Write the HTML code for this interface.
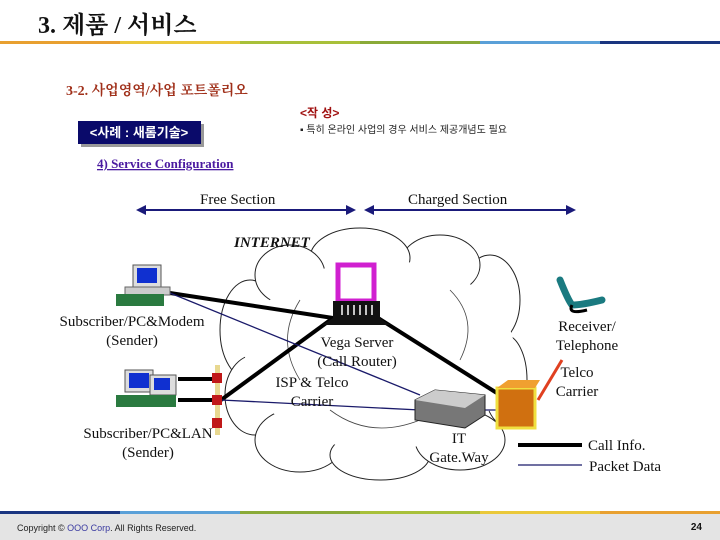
<!DOCTYPE html>
<html><head><meta charset="utf-8"><style>
body{margin:0;width:720px;height:540px;overflow:hidden;background:#fff}
svg{display:block}
.k{font-family:"Liberation Sans","Noto Sans CJK KR",sans-serif}
.s{font-family:"Liberation Serif","Noto Serif CJK SC",serif}
</style></head><body>
<svg width="720" height="540" viewBox="0 0 720 540">
<text x="38" y="33" class="s" font-size="24" font-weight="bold" fill="#111">3. 제품 / 서비스</text>
<rect x="0" y="41" width="120" height="3" fill="#e8a030"/>
<rect x="120" y="41" width="120" height="3" fill="#eac83a"/>
<rect x="240" y="41" width="120" height="3" fill="#a8c03a"/>
<rect x="360" y="41" width="120" height="3" fill="#8aaa38"/>
<rect x="480" y="41" width="120" height="3" fill="#5aa0d8"/>
<rect x="600" y="41" width="120" height="3" fill="#1a3580"/>
<text x="66" y="95" class="s" font-size="14" font-weight="bold" fill="#a0301a">3-2. 사업영역/사업 포트폴리오</text>
<text x="300" y="117" class="k" font-size="12" font-weight="bold" fill="#a01010">&lt;작 성&gt;</text>
<text x="300" y="133" class="k" font-size="10" fill="#222">▪ 특히 온라인 사업의 경우 서비스 제공개념도 필요</text>
<rect x="81" y="124" width="123" height="23" fill="#999"/>
<rect x="78" y="121" width="123" height="23" fill="#0a0a6a"/>
<text x="139" y="137" class="k" font-size="13" font-weight="bold" fill="#fff" text-anchor="middle">&lt;사례 : 새롬기술&gt;</text>
<text x="97" y="168" class="s" font-size="13" font-weight="bold" fill="#4a1aa0" text-decoration="underline">4) Service Configuration</text>
<text x="200" y="204" class="s" font-size="15" fill="#111">Free Section</text>
<text x="408" y="204" class="s" font-size="15" fill="#111">Charged Section</text>
<g stroke="#1a1a7a" stroke-width="2" fill="#1a1a7a">
<line x1="142" y1="210" x2="350" y2="210"/><polygon points="136,210 146,205 146,215" stroke="none"/><polygon points="356,210 346,205 346,215" stroke="none"/>
<line x1="370" y1="210" x2="570" y2="210"/><polygon points="364,210 374,205 374,215" stroke="none"/><polygon points="576,210 566,205 566,215" stroke="none"/>
</g>
<!-- cloud -->
<g fill="#fff" stroke="#222" stroke-width="1">
<ellipse cx="250" cy="330" rx="30" ry="50"/><ellipse cx="255" cy="395" rx="30" ry="40"/><ellipse cx="300" cy="440" rx="45" ry="32"/>
<ellipse cx="380" cy="455" rx="50" ry="25"/><ellipse cx="460" cy="440" rx="45" ry="30"/><ellipse cx="505" cy="380" rx="22" ry="45"/>
<ellipse cx="490" cy="300" rx="30" ry="45"/><ellipse cx="440" cy="265" rx="40" ry="30"/><ellipse cx="360" cy="258" rx="50" ry="30"/><ellipse cx="290" cy="275" rx="35" ry="30"/>
<ellipse cx="380" cy="355" rx="135" ry="95" stroke="none"/>
</g>
<g fill="none" stroke="#444" stroke-width="0.8">
<path d="M300 300 q-25 40 0 80"/><path d="M450 290 q30 30 10 70"/><path d="M330 410 q40 30 90 10"/>
</g>
<text x="234" y="247" class="s" font-size="15" font-style="italic" font-weight="bold" fill="#111">INTERNET</text>
<!-- lines -->
<g stroke="#000" stroke-width="4" fill="none">
<line x1="170" y1="293" x2="333" y2="318"/><line x1="221" y1="400" x2="333" y2="318"/><line x1="378" y1="318" x2="500" y2="395"/>
<line x1="178" y1="379" x2="218" y2="379"/><line x1="178" y1="400" x2="218" y2="400"/>
</g>
<g stroke="#1a1a6a" stroke-width="1.3">
<line x1="170" y1="293" x2="420" y2="395"/><line x1="221" y1="400" x2="420" y2="410"/><line x1="460" y1="410" x2="500" y2="410"/>
</g>
<line x1="538" y1="400" x2="562" y2="360" stroke="#e04020" stroke-width="3"/>
<!-- hub -->
<rect x="215" y="365" width="5" height="70" fill="#e8d890"/>
<rect x="212" y="373" width="10" height="10" fill="#c01818"/><rect x="212" y="395" width="10" height="10" fill="#c01818"/><rect x="212" y="418" width="10" height="10" fill="#c01818"/>
<!-- PCs -->
<g><rect x="133" y="265" width="28" height="22" fill="#ddd" stroke="#555"/><rect x="137" y="268" width="20" height="15" fill="#1030d0"/><rect x="125" y="287" width="45" height="8" fill="#ccc" stroke="#666"/><rect x="116" y="294" width="48" height="12" fill="#2a7a40"/></g>
<g><rect x="125" y="370" width="28" height="22" fill="#ddd" stroke="#555"/><rect x="129" y="373" width="20" height="15" fill="#1030d0"/><rect x="150" y="375" width="26" height="20" fill="#ddd" stroke="#555"/><rect x="154" y="378" width="16" height="12" fill="#1030d0"/><rect x="116" y="395" width="60" height="12" fill="#2a7a40"/></g>
<!-- server -->
<rect x="338" y="265" width="36" height="36" fill="#fff" stroke="#d020d0" stroke-width="5"/>
<polygon points="333,301 380,301 380,318 390,325 322,325 333,318" fill="#111"/>
<g stroke="#fff" stroke-width="1.5"><line x1="342" y1="305" x2="342" y2="315"/><line x1="348" y1="305" x2="348" y2="315"/><line x1="354" y1="305" x2="354" y2="315"/><line x1="360" y1="305" x2="360" y2="315"/><line x1="366" y1="305" x2="366" y2="315"/><line x1="372" y1="305" x2="372" y2="315"/></g>
<!-- gateway -->
<polygon points="415,400 435,390 485,395 485,415 465,428 415,420" fill="#777" stroke="#222"/>
<polygon points="415,400 465,408 485,395 435,390" fill="#ccc"/>
<!-- box -->
<rect x="497" y="388" width="38" height="40" fill="#d07010" stroke="#f0e040" stroke-width="3"/>
<polygon points="497,388 508,380 540,380 535,388" fill="#f0a030"/>
<!-- phone -->
<path d="M560 280 q8 20 12 25 q10 0 30 -5" stroke="#1a7a80" stroke-width="7" fill="none" stroke-linecap="round"/>
<path d="M572 305 q-5 10 15 5" stroke="#000" stroke-width="3" fill="none"/>
<g class="s" font-size="15" fill="#111">
<text x="132" y="326" text-anchor="middle">Subscriber/PC&amp;Modem</text>
<text x="132" y="345" text-anchor="middle">(Sender)</text>
<text x="148" y="438" text-anchor="middle">Subscriber/PC&amp;LAN</text>
<text x="148" y="457" text-anchor="middle">(Sender)</text>
<text x="357" y="347" text-anchor="middle">Vega Server</text>
<text x="357" y="366" text-anchor="middle">(Call Router)</text>
<text x="312" y="387" text-anchor="middle">ISP &amp; Telco</text>
<text x="312" y="406" text-anchor="middle">Carrier</text>
<text x="459" y="443" text-anchor="middle">IT</text>
<text x="459" y="462" text-anchor="middle">Gate.Way</text>
<text x="587" y="331" text-anchor="middle">Receiver/</text>
<text x="587" y="350" text-anchor="middle">Telephone</text>
<text x="577" y="377" text-anchor="middle">Telco</text>
<text x="577" y="396" text-anchor="middle">Carrier</text>
<text x="588" y="450">Call Info.</text>
<text x="589" y="471">Packet Data</text>
</g>
<line x1="518" y1="445" x2="582" y2="445" stroke="#000" stroke-width="4"/>
<line x1="518" y1="465" x2="582" y2="465" stroke="#1a1a6a" stroke-width="1.3"/>
<!-- footer -->
<rect x="0" y="514" width="720" height="26" fill="#e4e4e4"/>
<rect x="0" y="511" width="120" height="3" fill="#1a3580"/>
<rect x="120" y="511" width="120" height="3" fill="#5aa0d8"/>
<rect x="240" y="511" width="120" height="3" fill="#8aaa38"/>
<rect x="360" y="511" width="120" height="3" fill="#a8c03a"/>
<rect x="480" y="511" width="120" height="3" fill="#eac83a"/>
<rect x="600" y="511" width="120" height="3" fill="#e8a030"/>
<text x="17" y="531" class="k" font-size="9" fill="#222">Copyright © <tspan fill="#3a3aa0">OOO Corp</tspan>. All Rights Reserved.</text>
<text x="702" y="530" class="k" font-size="10" font-weight="bold" fill="#111" text-anchor="end">24</text>
</svg>
</body></html>
